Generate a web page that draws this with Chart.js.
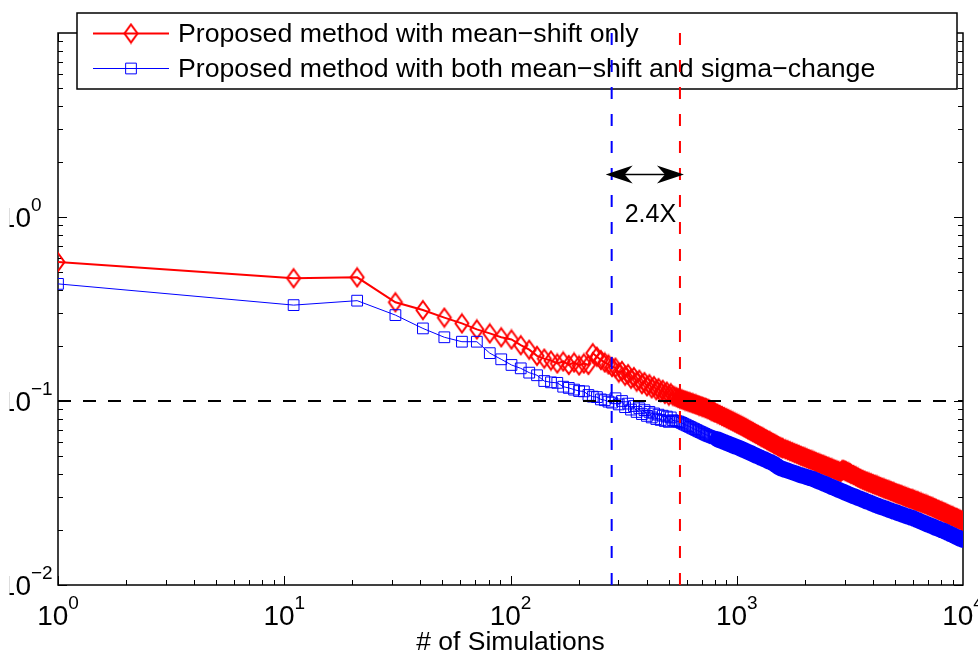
<!DOCTYPE html>
<html>
<head>
<meta charset="utf-8">
<script src="https://cdn.jsdelivr.net/npm/chart.js@4.4.1/dist/chart.umd.min.js"></script>
<style>
html, body { margin: 0; padding: 0; background: #fff; overflow: hidden; }
canvas { display: block; }
</style>
</head>
<body>
<canvas id="myChart" width="978" height="657"></canvas>
<script>
// number of simulations (x), shared by both curves
var simulations = [1, 11, 21, 31, 41, 51, 61, 71, 81, 91, 101, 111, 121, 131, 141, 151, 161, 171, 181, 191, 201, 211, 221, 231, 241, 251, 261, 271, 281,
  291, 301, 311, 321, 331, 341, 351, 361, 371, 381, 391, 401, 411, 421, 431, 441, 451, 461, 471, 481, 491, 501, 511, 521, 531, 541, 551, 561, 571, 581, 591, 601, 611, 621, 631, 641, 651, 661, 671, 681, 691, 701, 711, 721, 731, 741, 751, 761, 771, 781, 791, 801,
  821, 841, 861, 881, 901, 921, 941, 961, 981, 1001, 1021, 1041, 1061, 1081, 1101, 1121, 1141, 1161, 1181, 1201, 1221, 1241, 1261, 1281, 1301, 1321, 1341, 1361, 1381, 1401, 1421, 1441, 1461, 1481, 1501, 1521, 1541, 1561, 1581, 1601,
  1641, 1681, 1721, 1761, 1801, 1841, 1881, 1921, 1961, 2001, 2041, 2081, 2121, 2161, 2201, 2241, 2281, 2321, 2361, 2401, 2441, 2481, 2521, 2561, 2601, 2641, 2681, 2721, 2761, 2801, 2841, 2881, 2921, 2961, 3001, 3041, 3081, 3121, 3161, 3201,
  3281, 3361, 3441, 3521, 3601, 3681, 3761, 3841, 3921, 4001, 4081, 4161, 4241, 4321, 4401, 4481, 4561, 4641, 4721, 4801, 4881, 4961, 5041, 5121, 5201, 5281, 5361, 5441, 5521, 5601, 5681, 5761, 5841, 5921, 6001, 6081, 6161, 6241, 6321, 6401,
  6521, 6641, 6761, 6881, 7001, 7121, 7241, 7361, 7481, 7601, 7721, 7841, 7961, 8081, 8201, 8321, 8441, 8561, 8681, 8801, 8921, 9041, 9161, 9281, 9401, 9521, 9641, 9761, 9881, 9991]

var meanShiftOnly = [0.569, 0.465, 0.470, 0.344, 0.312, 0.284, 0.264, 0.245, 0.233, 0.222, 0.216, 0.201, 0.190, 0.176, 0.170, 0.166, 0.160, 0.164, 0.157, 0.162, 0.156, 0.160, 0.157, 0.182, 0.174, 0.167, 0.162, 0.158, 0.153,
  0.1519, 0.1428, 0.1457, 0.1372, 0.1400, 0.1321, 0.1350, 0.1275, 0.1305, 0.1235, 0.1268, 0.1202, 0.1235, 0.1172, 0.1205, 0.1144, 0.1176, 0.1117, 0.1151, 0.1093, 0.1125, 0.1070, 0.1103,
  0.1070, 0.1059, 0.1049, 0.1039, 0.1030, 0.1022, 0.1014, 0.1006, 0.0999, 0.0992, 0.0985, 0.0978, 0.0971, 0.0964, 0.0958, 0.0951, 0.0945, 0.0939, 0.0933, 0.0927, 0.0921, 0.0916, 0.0909, 0.0902, 0.0895, 0.0887, 0.0880, 0.0873, 0.0867,
  0.0854, 0.0841, 0.0829, 0.0818, 0.0806, 0.0795, 0.0785, 0.0775, 0.0765, 0.0755, 0.0746, 0.0737, 0.0728, 0.0719, 0.0710, 0.0701, 0.0693, 0.0685, 0.0677, 0.0669, 0.0662, 0.0655, 0.0648, 0.0641, 0.0634, 0.0627, 0.0621, 0.0615, 0.0609, 0.0603, 0.0597, 0.0592, 0.0586, 0.0581, 0.0575, 0.0570, 0.0565, 0.0560, 0.0557, 0.0554,
  0.0547, 0.0540, 0.0534, 0.0528, 0.0521, 0.0516, 0.0510, 0.0504, 0.0499, 0.0494, 0.0489, 0.0484, 0.0480, 0.0475, 0.0471, 0.0466, 0.0462, 0.0458, 0.0454, 0.0451, 0.0447, 0.0443, 0.0440, 0.0436, 0.0433, 0.0430, 0.0426, 0.0423, 0.0420, 0.0417, 0.0414, 0.0411, 0.0421, 0.0423, 0.0419, 0.0416, 0.0412, 0.0409, 0.0406, 0.0402,
  0.0396, 0.0390, 0.0384, 0.0378, 0.0373, 0.0369, 0.0365, 0.0361, 0.0358, 0.0354, 0.0351, 0.0348, 0.0344, 0.0341, 0.0338, 0.0335, 0.0332, 0.0330, 0.0327, 0.0324, 0.0322, 0.0319, 0.0316, 0.0314, 0.0312, 0.0310, 0.0308, 0.0305, 0.0303, 0.0301, 0.0299, 0.0297, 0.0295, 0.0294, 0.0292, 0.0290, 0.0288, 0.0286, 0.0285, 0.0283,
  0.0281, 0.0278, 0.0276, 0.0274, 0.0271, 0.0269, 0.0267, 0.0264, 0.0262, 0.0260, 0.0257, 0.0255, 0.0253, 0.0251, 0.0249, 0.0247, 0.0245, 0.0243, 0.0241, 0.0239, 0.0237, 0.0236, 0.0234, 0.0232, 0.0231, 0.0229, 0.0227, 0.0226, 0.0224, 0.0223]

var meanShiftSigma = [0.433, 0.332, 0.351, 0.293, 0.248, 0.222, 0.210, 0.210, 0.182, 0.1685, 0.157, 0.1505, 0.1426, 0.138, 0.1284, 0.1263, 0.1255, 0.1196, 0.1178, 0.1153, 0.1133, 0.1128, 0.1078, 0.1056, 0.1050, 0.102, 0.101, 0.0992, 0.098,
  0.1035, 0.0958, 0.1000, 0.0926, 0.0968, 0.0898, 0.0939, 0.0872, 0.0913, 0.0849, 0.0892, 0.0830, 0.0873, 0.0814, 0.0856, 0.0798, 0.0843, 0.0789, 0.0832, 0.0779, 0.0823, 0.0770, 0.0814,
  0.0786, 0.0781, 0.0777, 0.0774, 0.0767, 0.0760, 0.0752, 0.0744, 0.0737, 0.0730, 0.0723, 0.0716, 0.0709, 0.0703, 0.0696, 0.0690, 0.0684, 0.0678, 0.0673, 0.0667, 0.0662, 0.0656, 0.0651, 0.0647, 0.0643, 0.0639, 0.0635, 0.0631, 0.0627,
  0.0619, 0.0612, 0.0605, 0.0598, 0.0592, 0.0586, 0.0579, 0.0573, 0.0567, 0.0562, 0.0557, 0.0551, 0.0545, 0.0540, 0.0534, 0.0529, 0.0524, 0.0519, 0.0514, 0.0509, 0.0504, 0.0500, 0.0496, 0.0491, 0.0487, 0.0483, 0.0479, 0.0475, 0.0471, 0.0467, 0.0464, 0.0460, 0.0456, 0.0450, 0.0445, 0.0440, 0.0435, 0.0432, 0.0429, 0.0427,
  0.0422, 0.0418, 0.0414, 0.0410, 0.0406, 0.0402, 0.0398, 0.0395, 0.0392, 0.0389, 0.0386, 0.0383, 0.0380, 0.0378, 0.0374, 0.0371, 0.0367, 0.0364, 0.0361, 0.0358, 0.0355, 0.0352, 0.0349, 0.0346, 0.0343, 0.0340, 0.0338, 0.0335, 0.0333, 0.0330, 0.0328, 0.0325, 0.0323, 0.0321, 0.0318, 0.0316, 0.0314, 0.0312, 0.0310, 0.0308,
  0.0304, 0.0301, 0.0297, 0.0294, 0.0291, 0.0288, 0.0284, 0.0282, 0.0279, 0.0276, 0.0273, 0.0271, 0.0268, 0.0266, 0.0264, 0.0262, 0.0260, 0.0258, 0.0256, 0.0254, 0.0252, 0.0250, 0.0249, 0.0247, 0.0245, 0.0244, 0.0242, 0.0240, 0.0239, 0.0237, 0.0236, 0.0235, 0.0233, 0.0232, 0.0231, 0.0229, 0.0228, 0.0226, 0.0225, 0.0223,
  0.0221, 0.0219, 0.0217, 0.0215, 0.0213, 0.0211, 0.0210, 0.0208, 0.0206, 0.0204, 0.0203, 0.0201, 0.0200, 0.0198, 0.0197, 0.0195, 0.0194, 0.0192, 0.0191, 0.0189, 0.0188, 0.0186, 0.0185, 0.0183, 0.0182, 0.0181, 0.0179, 0.0178, 0.0177, 0.0176]

var seriesNames = ["Proposed method with mean\u2212shift only", "Proposed method with both mean\u2212shift and sigma\u2212change"]
var xTickExps = [0, 1, 2, 3, 4]
var yTickExps = [-2, -1, 0]
var xRange = [1, 10000]
var yRange = [0.01, 10]
var targetLevel = 0.1     // horizontal dashed line
var blueCross = 280       // blue curve reaches the target here
var redCross = 561        // red curve reaches the target here
var arrowLevel = 1.71
var speedupText = "2.4X"
var xTitle = "# of Simulations"
// from here on the markers pile up into a solid band
var redDenseFrom = 561
var blueDenseFrom = 821

var FONT = "'Liberation Sans', Arial, Helvetica, sans-serif"

function pts(xs, ys, from) {
  return xs.map((v, i) => ({ x: v, y: ys[i] })).filter(p => p.x >= (from || 0))
}

function supText(exp) {
  return exp < 0 ? "\u2212" + (-exp) : String(exp)
}

// matlab-like open diamond, a bit taller than wide
function diamondMarker() {
  var c = document.createElement("canvas")
  c.width = 18; c.height = 22
  var g = c.getContext("2d")
  g.strokeStyle = "#ff0000"
  g.lineWidth = 2
  g.beginPath()
  g.moveTo(9, 2); g.lineTo(15.5, 11); g.lineTo(9, 20); g.lineTo(2.5, 11); g.closePath()
  g.stroke()
  return c
}
var diamond = diamondMarker()

const frame = {
  id: 'frame',
  beforeDatasetsDraw(chart) {
    const { ctx, chartArea: a, scales: { x, y } } = chart
    ctx.save()
    ctx.strokeStyle = "#000"
    ctx.lineWidth = 1.5
    ctx.strokeRect(a.left, a.top, a.right - a.left, a.bottom - a.top)
    // inward ticks on all four sides
    ctx.lineWidth = 1
    ctx.beginPath()
    for (let d = 0; d < 4; d++) {
      for (let m = 1; m < 10; m++) {
        let px = Math.round(x.getPixelForValue(m * Math.pow(10, d))) + 0.5
        let len = m == 1 ? 9 : 5
        ctx.moveTo(px, a.bottom); ctx.lineTo(px, a.bottom - len)
        ctx.moveTo(px, a.top); ctx.lineTo(px, a.top + len)
      }
    }
    for (let d = -2; d < 1; d++) {
      for (let m = 1; m < 10; m++) {
        let py = Math.round(y.getPixelForValue(m * Math.pow(10, d))) + 0.5
        let len = m == 1 ? 9 : 5
        ctx.moveTo(a.left, py); ctx.lineTo(a.left + len, py)
        ctx.moveTo(a.right, py); ctx.lineTo(a.right - len, py)
      }
    }
    ctx.stroke()

    // tick labels 10^n
    ctx.fillStyle = "#000"
    ctx.textBaseline = "alphabetic"
    xTickExps.forEach(e => {
      let px = x.getPixelForValue(Math.pow(10, e))
      ctx.font = "28px " + FONT
      let wm = ctx.measureText("10").width
      ctx.font = "19px " + FONT
      let ws = ctx.measureText(supText(e)).width
      let start = px - (wm + ws) / 2
      ctx.textAlign = "left"
      ctx.font = "28px " + FONT
      ctx.fillText("10", start, 625)
      ctx.font = "19px " + FONT
      ctx.fillText(supText(e), start + wm, 609)
    })
    // the left edge of the original figure cuts through the "1"
    ctx.save()
    ctx.beginPath()
    ctx.rect(9.5, 0, 60, chart.height)
    ctx.clip()
    yTickExps.forEach(e => {
      let py = y.getPixelForValue(Math.pow(10, e))
      ctx.textAlign = "right"
      ctx.font = "28px " + FONT
      ctx.fillText("10", 31, py + 10)
      ctx.textAlign = "left"
      ctx.font = "19px " + FONT
      ctx.fillText(supText(e), 31, py - 6)
    })
    ctx.restore()

    ctx.textAlign = "center"
    ctx.font = "26.5px " + FONT
    ctx.fillText(xTitle, (a.left + a.right) / 2, 650)

    // legend box, drawn under the dashed guide lines as in the original
    ctx.fillStyle = "#fff"
    ctx.fillRect(77, 13, 880, 76)
    ctx.strokeStyle = "#000"
    ctx.lineWidth = 1.5
    ctx.strokeRect(77, 13, 880, 76)
    const rows = [33.5, 68.5]
    chart.data.datasets.slice(0, 2).forEach((ds, i) => {
      let ly = rows[i]
      ctx.strokeStyle = ds.borderColor
      ctx.lineWidth = ds.borderWidth
      ctx.beginPath()
      ctx.moveTo(93, ly); ctx.lineTo(169, ly)
      ctx.stroke()
      ctx.strokeStyle = ds.pointBorderColor
      ctx.fillStyle = "rgba(0,0,0,0)"
      ctx.lineWidth = ds.pointBorderWidth
      Chart.helpers.drawPoint(ctx, {
        pointStyle: ds.pointStyle, radius: ds.pointRadius, borderWidth: ds.pointBorderWidth, rotation: 0
      }, 131, ly)
      ctx.fillStyle = "#000"
      ctx.textAlign = "left"
      ctx.textBaseline = "middle"
      ctx.font = "26.7px " + FONT
      ctx.fillText(ds.label, 178, ly + 1)
    })
    ctx.restore()
  },
  afterDatasetsDraw(chart) {
    const { ctx, scales: { x, y } } = chart
    let x1 = x.getPixelForValue(blueCross) - 6
    let x2 = x.getPixelForValue(redCross) + 4
    let ay = Math.round(y.getPixelForValue(arrowLevel)) + 0.5
    ctx.save()
    ctx.strokeStyle = "#000"
    ctx.fillStyle = "#000"
    ctx.lineWidth = 1.5
    ctx.beginPath()
    ctx.moveTo(x1 + 10, ay); ctx.lineTo(x2 - 10, ay)
    ctx.stroke()
    ctx.beginPath()
    ctx.moveTo(x1, ay); ctx.lineTo(x1 + 27, ay - 9); ctx.lineTo(x1 + 19, ay); ctx.lineTo(x1 + 27, ay + 9); ctx.closePath()
    ctx.moveTo(x2, ay); ctx.lineTo(x2 - 27, ay - 9); ctx.lineTo(x2 - 19, ay); ctx.lineTo(x2 - 27, ay + 9); ctx.closePath()
    ctx.fill()
    ctx.font = "25px " + FONT
    ctx.textAlign = "left"
    ctx.textBaseline = "alphabetic"
    ctx.fillText(speedupText, x.getPixelForValue(blueCross) + 13, ay + 47)
    ctx.restore()
  }
}

var chartField = document.querySelector("#myChart").getContext("2d")

var myChart = new Chart(chartField, {
  type: "line",
  data: {
    datasets: [{
      label: seriesNames[0],
      data: pts(simulations, meanShiftOnly),
      borderColor: "#ff0000",
      borderWidth: 2,
      pointStyle: diamond,
      pointRadius: 9,
      pointBorderWidth: 2,
      pointBorderColor: "#ff0000",
      pointBackgroundColor: "rgba(0,0,0,0)",
      order: 3
    }, {
      label: seriesNames[1],
      data: pts(simulations, meanShiftSigma),
      borderColor: "#0000ff",
      borderWidth: 1,
      pointStyle: "rect",
      pointRadius: 7.6,
      pointBorderWidth: 1,
      pointBorderColor: "#0000ff",
      pointBackgroundColor: "rgba(0,0,0,0)",
      order: 2
    }, {
      // overlapping markers of the dense part merge into a solid band
      label: "red band",
      data: pts(simulations, meanShiftOnly, redDenseFrom),
      borderColor: "#ff0000",
      borderWidth: 17,
      borderJoinStyle: "round",
      borderCapStyle: "round",
      pointRadius: 0,
      order: 4
    }, {
      label: "blue band",
      data: pts(simulations, meanShiftSigma, blueDenseFrom),
      borderColor: "#0000ff",
      borderWidth: 16,
      borderJoinStyle: "round",
      borderCapStyle: "round",
      pointRadius: 0,
      order: 2.5
    }, {
      label: "target",
      data: [{ x: xRange[0], y: targetLevel }, { x: xRange[1], y: targetLevel }],
      borderColor: "#000",
      borderWidth: 2,
      borderDash: [13, 12],
      pointRadius: 0,
      order: 1
    }, {
      label: "blue cross",
      data: [{ x: blueCross, y: yRange[0] }, { x: blueCross, y: yRange[1] }],
      borderColor: "#0000ff",
      borderWidth: 2,
      borderDash: [12, 15],
      pointRadius: 0,
      order: 0
    }, {
      label: "red cross",
      data: [{ x: redCross, y: yRange[0] }, { x: redCross, y: yRange[1] }],
      borderColor: "#ff0000",
      borderWidth: 2,
      borderDash: [12, 15],
      pointRadius: 0,
      order: 0
    }]
  },
  options: {
    responsive: false,
    devicePixelRatio: 1,
    animation: false,
    layout: { padding: { top: 33, right: 15, left: 0, bottom: 0 } },
    plugins: { legend: { display: false }, tooltip: { enabled: false } },
    scales: {
      x: {
        type: "logarithmic",
        min: xRange[0],
        max: xRange[1],
        ticks: { display: false },
        grid: { display: false },
        border: { display: false },
        afterFit: s => { s.height = 72 }
      },
      y: {
        type: "logarithmic",
        min: yRange[0],
        max: yRange[1],
        ticks: { display: false },
        grid: { display: false },
        border: { display: false },
        afterFit: s => { s.width = 58 }
      }
    }
  },
  plugins: [frame]
})
</script>
</body>
</html>
